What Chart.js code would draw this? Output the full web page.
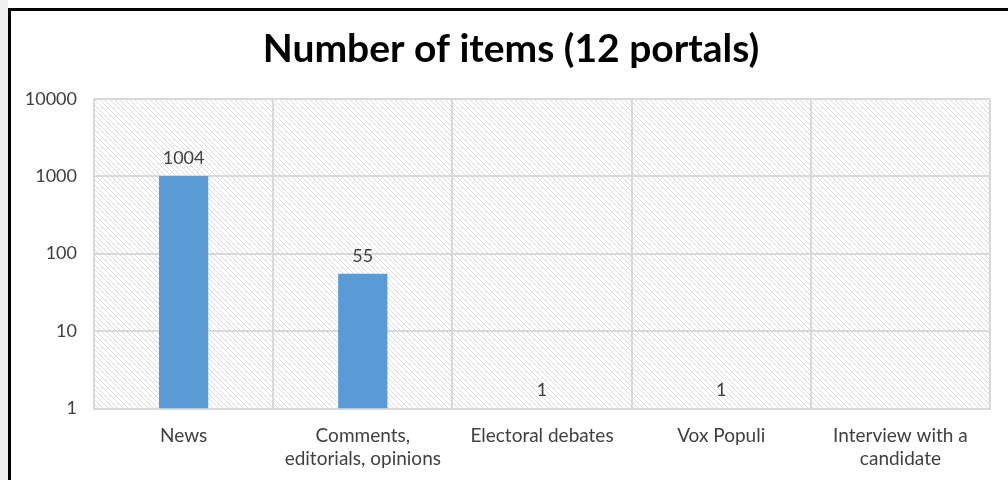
<!DOCTYPE html>
<html lang="en">
<head>
<meta charset="UTF-8">
<title>Number of items (12 portals)</title>
<script src="https://cdn.jsdelivr.net/npm/chart.js"></script>
<style>
  html, body { margin: 0; padding: 0; background: #fff; overflow: hidden; height: 480px; }
  .faixa { position: absolute; left: 0; top: 0; width: 8px; height: 480px; background: #f0f0f0; }
  .moldura { position: absolute; left: 8px; top: 8px; width: 1020px; height: 500px;
             border-left: 3px solid #000; border-top: 3px solid #000; }
  .grafico { position: absolute; left: 11px; top: 11px; width: 997px; height: 483px; }
</style>
</head>
<body>
<div class="faixa"></div>
<div class="moldura"></div>
<div class="grafico"><canvas id="myChartCanvas"></canvas></div>

<script>
// dados
const categorias = [
  'News',
  ['Comments,', 'editorials, opinions'],
  'Electoral debates',
  'Vox Populi',
  ['Interview with a', 'candidate']
];
const quantidades = [1004, 55, 1, 1, null];
const marcasY = [1, 10, 100, 1000, 10000];

const fonte = "'Lato', 'Open Sans', sans-serif";

// fundo hachurado da area do grafico
function criarHachura() {
  let tile = document.createElement('canvas');
  tile.width = 5; tile.height = 5;
  let c = tile.getContext('2d');
  c.fillStyle = '#ffffff';
  c.fillRect(0, 0, 5, 5);
  c.strokeStyle = '#dadada';
  c.lineWidth = 1;
  c.beginPath();
  c.moveTo(-1, -1); c.lineTo(6, 6);
  c.moveTo(-1, 4); c.lineTo(1, 6);
  c.moveTo(4, -1); c.lineTo(6, 1);
  c.stroke();
  return tile;
}

const hachuraPlugin = {
  id: 'hachura',
  afterLayout(chart) {
    // deixa o rotulo 10000 sair um pouco do eixo sem ser cortado
    chart.scales.y.left = 0;
  },
  beforeDraw(chart) {
    let a = chart.chartArea;
    let ctx = chart.ctx;
    ctx.save();
    ctx.fillStyle = ctx.createPattern(criarHachura(), 'repeat');
    ctx.fillRect(a.left, a.top, a.right - a.left, a.bottom - a.top);
    ctx.restore();
  }
};

// rotulos em cima das barras
const rotulosPlugin = {
  id: 'rotulos',
  afterDatasetsDraw(chart) {
    let ctx = chart.ctx;
    let meta = chart.getDatasetMeta(0);
    ctx.save();
    ctx.font = '18px ' + fonte;
    ctx.fillStyle = '#404040';
    ctx.textAlign = 'center';
    ctx.textBaseline = 'bottom';
    meta.data.forEach(function (barra, i) {
      let v = quantidades[i];
      if (v === null) return;
      ctx.fillText(String(v), barra.x, barra.y - 9);
    });
    ctx.restore();
  }
};

new Chart(document.getElementById('myChartCanvas'), {
  type: 'bar',
  data: {
    labels: categorias,
    datasets: [{
      label: 'Items',
      data: quantidades,
      backgroundColor: '#5b9bd5',
      borderWidth: 0,
      categoryPercentage: 1,
      barPercentage: 0.275
    }]
  },
  options: {
    responsive: true,
    maintainAspectRatio: false,
    animation: false,
    layout: { padding: { left: 21, right: 18, top: 15, bottom: 8 } },
    plugins: {
      legend: { display: false },
      tooltip: { enabled: false },
      title: {
        display: true,
        text: 'Number of items (12 portals)',
        color: '#000',
        font: { family: fonte, size: 39, weight: 'bold' },
        padding: { top: 0, bottom: 26 }
      }
    },
    scales: {
      x: {
        grid: { color: '#d9d9d9', lineWidth: 2, offset: true, drawTicks: false },
        border: { color: '#d9d9d9', width: 2 },
        ticks: { color: '#404040', font: { family: fonte, size: 19, lineHeight: 1.25 }, padding: 15, maxRotation: 0, autoSkip: false }
      },
      y: {
        type: 'logarithmic',
        min: 1,
        max: 10000,
        afterBuildTicks(axis) {
          axis.ticks = marcasY.map(v => ({ value: v }));
        },
        afterFit(axis) {
          axis.width = 62;
        },
        grid: { color: '#d9d9d9', lineWidth: 2, drawTicks: false },
        border: { display: false },
        ticks: {
          color: '#404040',
          font: { family: fonte, size: 18 },
          padding: 17,
          callback: v => String(v)
        }
      }
    }
  },
  plugins: [hachuraPlugin, rotulosPlugin]
});
</script>
</body>
</html>
